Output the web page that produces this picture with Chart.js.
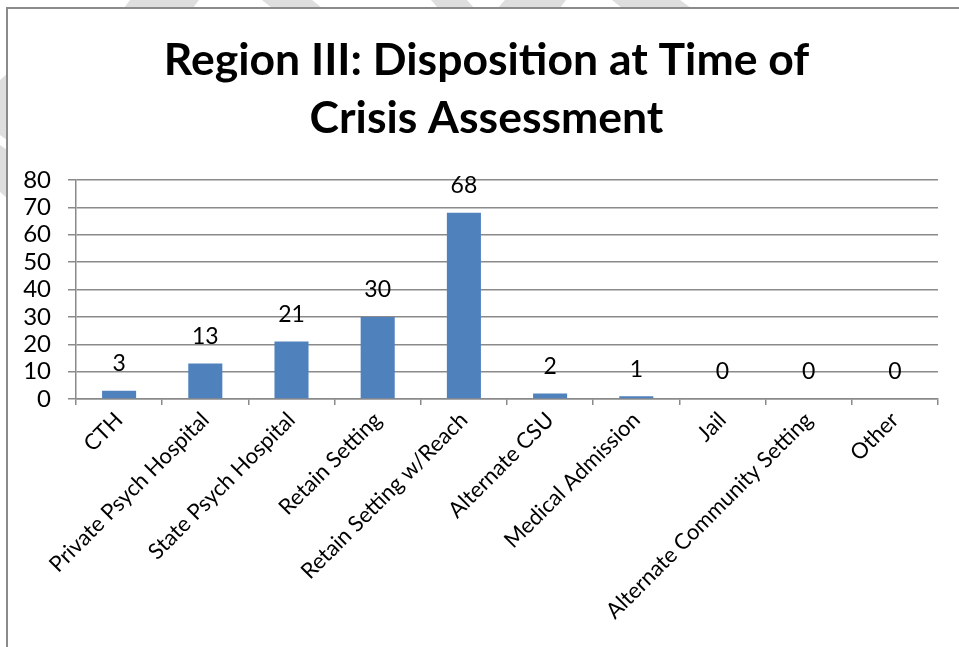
<!DOCTYPE html>
<html>
<head>
<meta charset="utf-8">
<script src="https://cdn.jsdelivr.net/npm/chart.js@4.4.1/dist/chart.umd.min.js"></script>
<style>
html,body{margin:0;padding:0;background:#fff;}
#wrap{width:959px;height:647px;position:relative;}
</style>
</head>
<body>
<div id="wrap"><canvas id="c" width="959" height="647"></canvas></div>
<script>
const categories = ["CTH","Private Psych Hospital","State Psych Hospital","Retain Setting","Retain Setting w/Reach","Alternate CSU","Medical Admission","Jail","Alternate Community Setting","Other"];
const values = [3,13,21,30,68,2,1,0,0,0];
const yTicks = [0,10,20,30,40,50,60,70,80];
const titleLines = ["Region III: Disposition at Time of","Crisis Assessment"];

const FONT = "Lato, 'Open Sans', sans-serif";

const framePlugin = {
  id: 'frame',
  beforeDraw(chart) {
    const ctx = chart.ctx;
    ctx.save();
    ctx.fillStyle = '#fff';
    ctx.fillRect(0, 0, chart.width, chart.height);
    ctx.fillStyle = '#dedede';
    const polys = [
      [[130,0],[199,0],[193,8],[124,8]],
      [[262,0],[312,0],[322,8],[272,8]],
      [[431,0],[467,0],[474,8],[438,8]],
      [[505,0],[566,0],[560,8],[498,8]],
      [[612,0],[680,0],[691,8],[622,8]],
      [[0,80],[7,74],[7,140],[0,135]],
      [[0,145],[7,150],[7,198],[0,192]]
    ];
    polys.forEach(p => {
      ctx.beginPath();
      ctx.moveTo(p[0][0], p[0][1]);
      for (let i = 1; i < p.length; i++) ctx.lineTo(p[i][0], p[i][1]);
      ctx.closePath();
      ctx.fill();
    });
    ctx.strokeStyle = '#8a8a8a';
    ctx.lineWidth = 2;
    ctx.beginPath();
    ctx.moveTo(7, 647);
    ctx.lineTo(7, 8);
    ctx.lineTo(959, 8);
    ctx.stroke();
    ctx.restore();
  }
};

const titlePlugin = {
  id: 'customTitle',
  afterDraw(chart) {
    const ctx = chart.ctx;
    ctx.save();
    ctx.font = "bold 44.5px " + FONT;
    ctx.fillStyle = '#000';
    ctx.textAlign = 'center';
    ctx.textBaseline = 'middle';
    titleLines.forEach((t, i) => ctx.fillText(t, 486.5, 61 + i * 58));
    ctx.restore();
  }
};

const labelPlugin = {
  id: 'barLabels',
  afterDatasetsDraw(chart) {
    const ctx = chart.ctx;
    const meta = chart.getDatasetMeta(0);
    ctx.save();
    ctx.font = "23px " + FONT;
    ctx.fillStyle = '#000';
    ctx.textAlign = 'center';
    ctx.textBaseline = 'middle';
    meta.data.forEach((bar, i) => {
      ctx.fillText(String(values[i]), bar.x, bar.y - 27);
    });
    ctx.restore();
  }
};

new Chart(document.getElementById('c'), {
  type: 'bar',
  data: {
    labels: categories,
    datasets: [{
      data: values,
      backgroundColor: '#4f81bd',
      borderWidth: 0,
      barPercentage: 0.395,
      categoryPercentage: 1.0
    }]
  },
  options: {
    responsive: false,
    animation: false,
    layout: { padding: { left: 10, right: 21, top: 180, bottom: 0 } },
    plugins: {
      legend: { display: false },
      tooltip: { enabled: false },
      title: { display: false }
    },
    scales: {
      x: {
        grid: { display: true, drawOnChartArea: false, drawTicks: true, tickLength: 6, color: '#8a8a8a', lineWidth: 1.5, offset: true },
        border: { display: true, color: '#8a8a8a', width: 1.5 },
        ticks: { color: '#000', font: { family: FONT, size: 22 }, minRotation: 45, maxRotation: 45, autoSkip: false, padding: 2 },
        afterFit(scale) { scale.height = 248; }
      },
      y: {
        min: 0, max: 80,
        afterBuildTicks(scale) { scale.ticks = yTicks.map(v => ({ value: v })); },
        grid: { color: '#8a8a8a', lineWidth: 1.5, tickLength: 8, drawTicks: true },
        border: { display: true, color: '#8a8a8a', width: 1.5 },
        ticks: { color: '#000', font: { family: FONT, size: 24 }, padding: 17, autoSkip: false, stepSize: 10 },
        afterFit(scale) { scale.width = 66; }
      }
    }
  },
  plugins: [framePlugin, titlePlugin, labelPlugin]
});
</script>
</body>
</html>
